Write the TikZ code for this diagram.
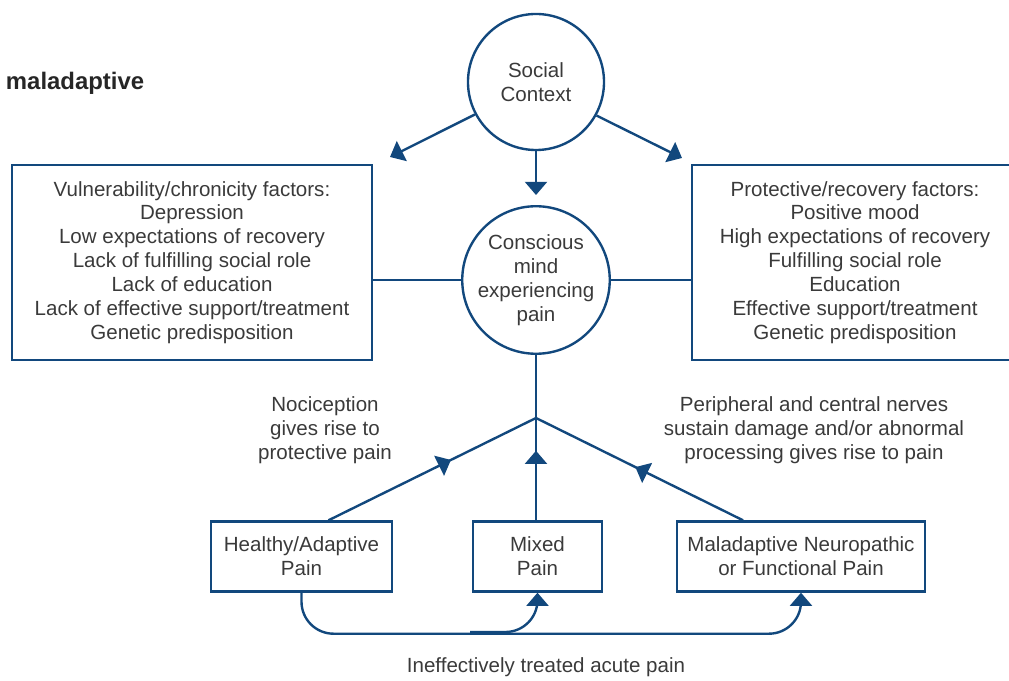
\documentclass[tikz,border=0pt]{standalone}
\usepackage{fontspec}
\setmainfont{Liberation Sans}
\usepackage{xcolor}
\usetikzlibrary{calc,arrows.meta}
\usetikzlibrary{decorations.markings}
\definecolor{painblue}{RGB}{18,72,125}
\definecolor{paingray}{RGB}{58,58,58}

\begin{document}
\begin{tikzpicture}[x=0.025cm, y=-0.025cm,
    >={Triangle[width=0.55cm,length=0.33cm]},
    every node/.style={text=paingray, align=center, font=\fontsize{14.6}{17}\selectfont},
    link/.style={draw=painblue, line width=1.7pt},
    ring/.style={circle, draw=painblue, line width=1.7pt, minimum size=3.4cm, inner sep=0pt},
    factorbox/.style={draw=painblue, line width=1.7pt, minimum width=#1, minimum height=4.875cm, inner sep=0pt},
    painbox/.style={draw=painblue, line width=1.7pt, minimum width=#1, minimum height=1.75cm, inner sep=0pt},
    midarrow/.style={postaction={decorate}, decoration={markings, mark=at position #1 with {\arrow{>}}}}]
    \clip[use as bounding box] (0,0) rectangle (1009,681);
    % heading word at the top left
    \node[anchor=base west, font=\bfseries\fontsize{17}{20}\selectfont, text=black!85] (head) at (1,90) {maladaptive};
    % top: social context and the two factor boxes
    \node[ring] (sc) at (536,82) {Social\\Context};
    \node[ring] (cm) at (536,280) {Conscious\\mind\\experiencing\\pain};
    \node[factorbox=9cm] (lf) at (192,262.5) {Vulnerability/chronicity factors:\\Depression\\Low expectations of recovery\\Lack of fulfilling social role\\Lack of education\\Lack of effective support/treatment\\Genetic predisposition};
    \node[factorbox=8.15cm] (rf) at (855,262.5) {Protective/recovery factors:\\Positive mood\\High expectations of recovery\\Fulfilling social role\\Education\\Effective support/treatment\\Genetic predisposition};
    \coordinate (lt) at (390,157);
    \coordinate (rt) at (682,158);
    \draw[link, ->] (sc.208) -- (lt);
    \draw[link, ->] (sc.331) -- (rt);
    \draw[link, ->, shorten >=0.25cm] (sc.south) -- (cm.north);
    \draw[link] (cm.west -| lf.east) -- (cm.west);
    \draw[link] (cm.east) -- (cm.east -| rf.west);
    % bottom: the three kinds of pain
    \coordinate (jn) at (536,418);
    \node[painbox=4.525cm] (hp) at (301.5,556.5) {Healthy/Adaptive\\Pain};
    \node[painbox=3.225cm] (mx) at (537.5,556.5) {Mixed\\Pain};
    \node[painbox=6.2cm] (mal) at (801,556.5) {Maladaptive Neuropathic\\or Functional Pain};
    \draw[link] (cm.south) -- (jn);
    \draw[link, midarrow=0.59] ([xshift=0.675cm]hp.north) -- (jn);
    \draw[link, midarrow=0.68] (mx.north -| jn) -- (jn);
    \draw[link, midarrow=0.52] ([xshift=-1.45cm]mal.north) -- (jn);
    \node (noci) at (325,430) {Nociception\\gives rise to\\protective pain};
    \node (peri) at (814,430) {Peripheral and central nerves\\sustain damage and/or abnormal\\processing gives rise to pain};
    % acute pain that is not treated well
    \draw[link, ->, rounded corners=0.8cm] (hp.south) -- ++(0,41) -| (mal.south);
    \coordinate (br) at (470,632);
    \draw[link, ->, rounded corners=0.8cm] (br) -| (mx.south);
    \node[anchor=base] (acute) at (546,673) {Ineffectively treated acute pain};
\end{tikzpicture}
\end{document}
